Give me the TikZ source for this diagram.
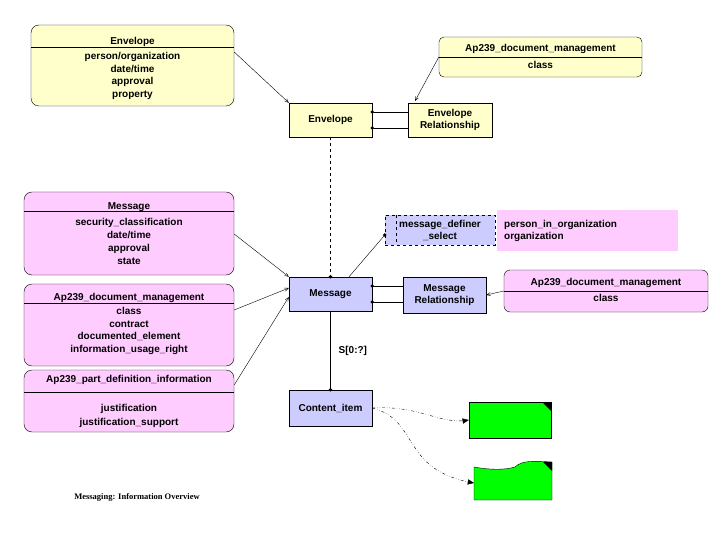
\documentclass[tikz,border=0pt]{standalone}
\usepackage{fontspec}
\setmainfont{Liberation Sans}
\newfontfamily\capfont{Liberation Serif}
\usetikzlibrary{arrows,positioning}
\definecolor{colY}{RGB}{255,255,204}
\definecolor{colB}{RGB}{204,204,255}
\definecolor{colP}{RGB}{255,204,255}
\definecolor{colG}{RGB}{0,255,0}
\tikzstyle{ent}=[draw, align=center, inner sep=1pt, font=\bfseries]
\tikzstyle{info}=[draw, rounded corners=8pt, inner sep=0pt]
\tikzstyle{txt}=[font=\bfseries, inner sep=0pt]
\tikzstyle{rel}=[-, thin]
\tikzstyle{dot}=[fill, circle, inner sep=1.3pt]
\begin{document}
\begin{tikzpicture}[x=1pt,y=-1pt,>=angle 45,font=\fontsize{9.3}{9.5}\selectfont]
\useasboundingbox (0,0) rectangle (720,540);
% info boxes
\node[info, fill=colY, minimum width=203, minimum height=81] (envinfo) at (132.5,65.5) {};
\draw (31,47) -- (234,47);
\node[txt, align=center] (envtxt) at (132.5,68.5) {Envelope\\[3pt]person/organization\\[0.5pt]date/time\\[0.5pt]approval\\[0.5pt]property};
\node[info, fill=colY, rounded corners=5pt, minimum width=203, minimum height=40] (apA) at (540.5,57) {};
\draw (439,57) -- (642,57);
\node[txt] (apAt) at (540.5,49) {Ap239\_document\_management};
\node[txt] (apAc) at (540.5,65) {class};
\node[info, fill=colP, minimum width=210, minimum height=83] (msginfo) at (129,233.5) {};
\draw (24,211) -- (234,211);
\node[txt, align=center] (msgtxt) at (129,233.5) {Message\\[4pt]security\_classification\\[1.5pt]date/time\\[0.5pt]approval\\[1pt]state};
\node[info, fill=colP, minimum width=210, minimum height=82] (apB) at (129,325) {};
\draw (24,303) -- (234,303);
\node[txt, align=center] (apBt) at (129,323.5) {Ap239\_document\_management\\[2pt]class\\[1pt]contract\\[0.5pt]documented\_element\\[0.5pt]information\_usage\_right};
\node[info, fill=colP, minimum width=210, minimum height=62] (apC) at (129,401) {};
\draw (24,392) -- (234,392);
\node[txt] (apCt) at (129,380) {Ap239\_part\_definition\_information};
\node[txt, align=center] (apCb) at (129,415.5) {justification\\[2pt]justification\_support};
\node[info, fill=colP, rounded corners=6pt, minimum width=204, minimum height=42] (apD) at (606,291) {};
\draw (504,291) -- (708,291);
\node[txt] (apDt) at (606,283) {Ap239\_document\_management};
\node[txt] (apDc) at (606,298) {class};
% entities
\node[ent, fill=colY, minimum width=83, minimum height=34] (env) at (330.5,120) {Envelope};
\node[ent, fill=colY, minimum width=84, minimum height=34] (envrel) at (450,120) {Envelope\\Relationship};
\node[ent, fill=colB, minimum width=83, minimum height=34] (msg) at (330.5,294) {Message};
\node[ent, fill=colB, minimum width=83, minimum height=36] (msgrel) at (444.5,295) {Message\\Relationship};
\node[ent, fill=colB, minimum width=83, minimum height=36] (item) at (330.5,408) {Content\_item};
\node[fill=colP, minimum width=181, minimum height=41, inner sep=0pt] (selbg) at (587.5,230.5) {};
\node[ent, dashed, fill=colB, minimum width=110, minimum height=30] (sel) at (440,230) {message\_definer\\\_select};
\draw[dashed] (396,215) -- (396,245);
\node[txt, align=left, anchor=west] (seltxt) at (504,231) {person\_in\_organization\\organization};
\node[draw, fill=colG, minimum width=82, minimum height=36, inner sep=0pt] (doc) at (510,420) {};
\fill (551,402) -- (551,411) -- (542,402) -- cycle;
\draw[fill=colG] (474,500) -- (474,467) .. controls (490,470) and (505,470) .. (515,467) .. controls (522,460) and (535,461) .. (552,462) -- (552,500) -- cycle;
\coordinate (wav) at (474,483);
\fill (552,462) -- (552,471) -- (543,462) -- cycle;
% connectors
\draw[->] (envinfo.east |- 0,52) -- (env.north west);
\draw[->] (apA.west) -- (415,101);
\draw[->] (msginfo.east |- 0,234) -- (msg.north west);
\draw[->] (apB.east |- 0,310) -- (msg.west |- 0,288);
\draw[->] (apC.east |- 0,385) -- (msg.west |- 0,297);
\draw[->] (apD.west) -- (msgrel.east);
\draw[rel] (env.east |- 0,112) node[dot] {} -- (envrel.west |- 0,112);
\draw[rel] (env.east |- 0,128) node[dot] {} -- (envrel.west |- 0,128);
\draw[rel] (msg.east |- 0,286) node[dot] {} -- (msgrel.west |- 0,286);
\draw[rel] (msg.east |- 0,302) node[dot] {} -- (msgrel.west |- 0,302);
\draw[dashed] (env.south) -- (msg.north) node[dot] {};
\draw (msg.north -| 349,0) -- (sel.west |- 0,235) node[dot] {};
\draw (msg.south) -- node[right=8pt, txt] {S[0:?]} (item.north) node[dot] {};
\draw[-triangle 45, dash dot dot] (item.east) .. controls (420,405) and (440,425) .. (doc.west);
\draw[-triangle 45, dash dot dot] (item.east) .. controls (420,420) and (400,470) .. (wav);
\node[font=\capfont\bfseries\fontsize{8.5}{9}\selectfont] (cap) at (137,497) {Messaging: Information Overview};
\end{tikzpicture}
\end{document}
